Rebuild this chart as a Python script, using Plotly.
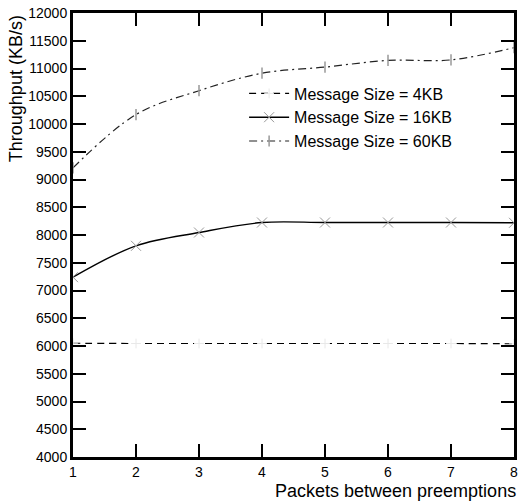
import plotly.graph_objects as go

packets = [1, 2, 3, 4, 5, 6, 7, 8]
size_4kb = [6050, 6045, 6045, 6045, 6045, 6045, 6045, 6040]
size_16kb = [7240, 7805, 8045, 8225, 8225, 8225, 8225, 8220]
size_60kb = [9210, 10170, 10600, 10915, 11025, 11145, 11155, 11375]

y_ticks = list(range(4000, 12001, 500))
x_ticks = packets

fig = go.Figure()

fig.add_trace(go.Scatter(
    x=packets, y=size_4kb, name="Message Size = 4KB",
    mode="lines+markers", line=dict(color="black", width=1.2, dash="7px,5px", shape="spline"),
    marker=dict(symbol="cross-thin-open", size=7, color="#e8e8e8", line=dict(color="#e8e8e8", width=1)),
))
fig.add_trace(go.Scatter(
    x=packets, y=size_16kb, name="Message Size = 16KB",
    mode="lines+markers", line=dict(color="black", width=1.4, shape="spline", smoothing=1),
    marker=dict(symbol="x-thin-open", size=10, color="#999", line=dict(color="#999", width=1)),
))
fig.add_trace(go.Scatter(
    x=packets, y=size_60kb, name="Message Size = 60KB",
    mode="lines+markers", line=dict(color="#222", width=1.2, dash="8px,4px,2px,4px", shape="spline", smoothing=1),
    marker=dict(symbol="line-ns-open", size=8, color="#999", line=dict(color="#999", width=1.5)),
))

axis_common = dict(
    showgrid=False, zeroline=False, showline=True, mirror="allticks",
    linecolor="black", linewidth=3, ticks="inside", ticklen=13,
    tickwidth=2, tickcolor="black",
    tickfont=dict(family="Liberation Sans, Arial", size=14, color="black"),
)

fig.update_xaxes(range=[1, 8], tickvals=x_ticks, ticktext=[str(v) for v in x_ticks], **axis_common)
fig.update_yaxes(range=[4000, 12000], tickvals=y_ticks, ticktext=[str(v) for v in y_ticks], **axis_common)

fig.update_layout(
    width=523, height=502,
    margin=dict(l=73, r=5, t=11, b=45),
    plot_bgcolor="white", paper_bgcolor="white",
    showlegend=True,
    legend=dict(
        x=0.388, y=0.857, xanchor="left", yanchor="top",
        bgcolor="rgba(0,0,0,0)", borderwidth=0,
        font=dict(family="Liberation Sans, Arial", size=16, color="black"),
        tracegroupgap=0, itemwidth=40,
    ),
    annotations=[
        dict(text="Throughput (KB/s)", textangle=-90, xref="paper", yref="paper",
             x=-0.13, y=1.0, xanchor="center", yanchor="top", showarrow=False,
             font=dict(family="Liberation Sans, Arial", size=18, color="black")),
        dict(text="Packets between preemptions", xref="paper", yref="paper",
             x=1.01, y=-0.05, xanchor="right", yanchor="top", showarrow=False,
             font=dict(family="Liberation Sans, Arial", size=18, color="black")),
    ],
)

fig.write_html("out.html")
